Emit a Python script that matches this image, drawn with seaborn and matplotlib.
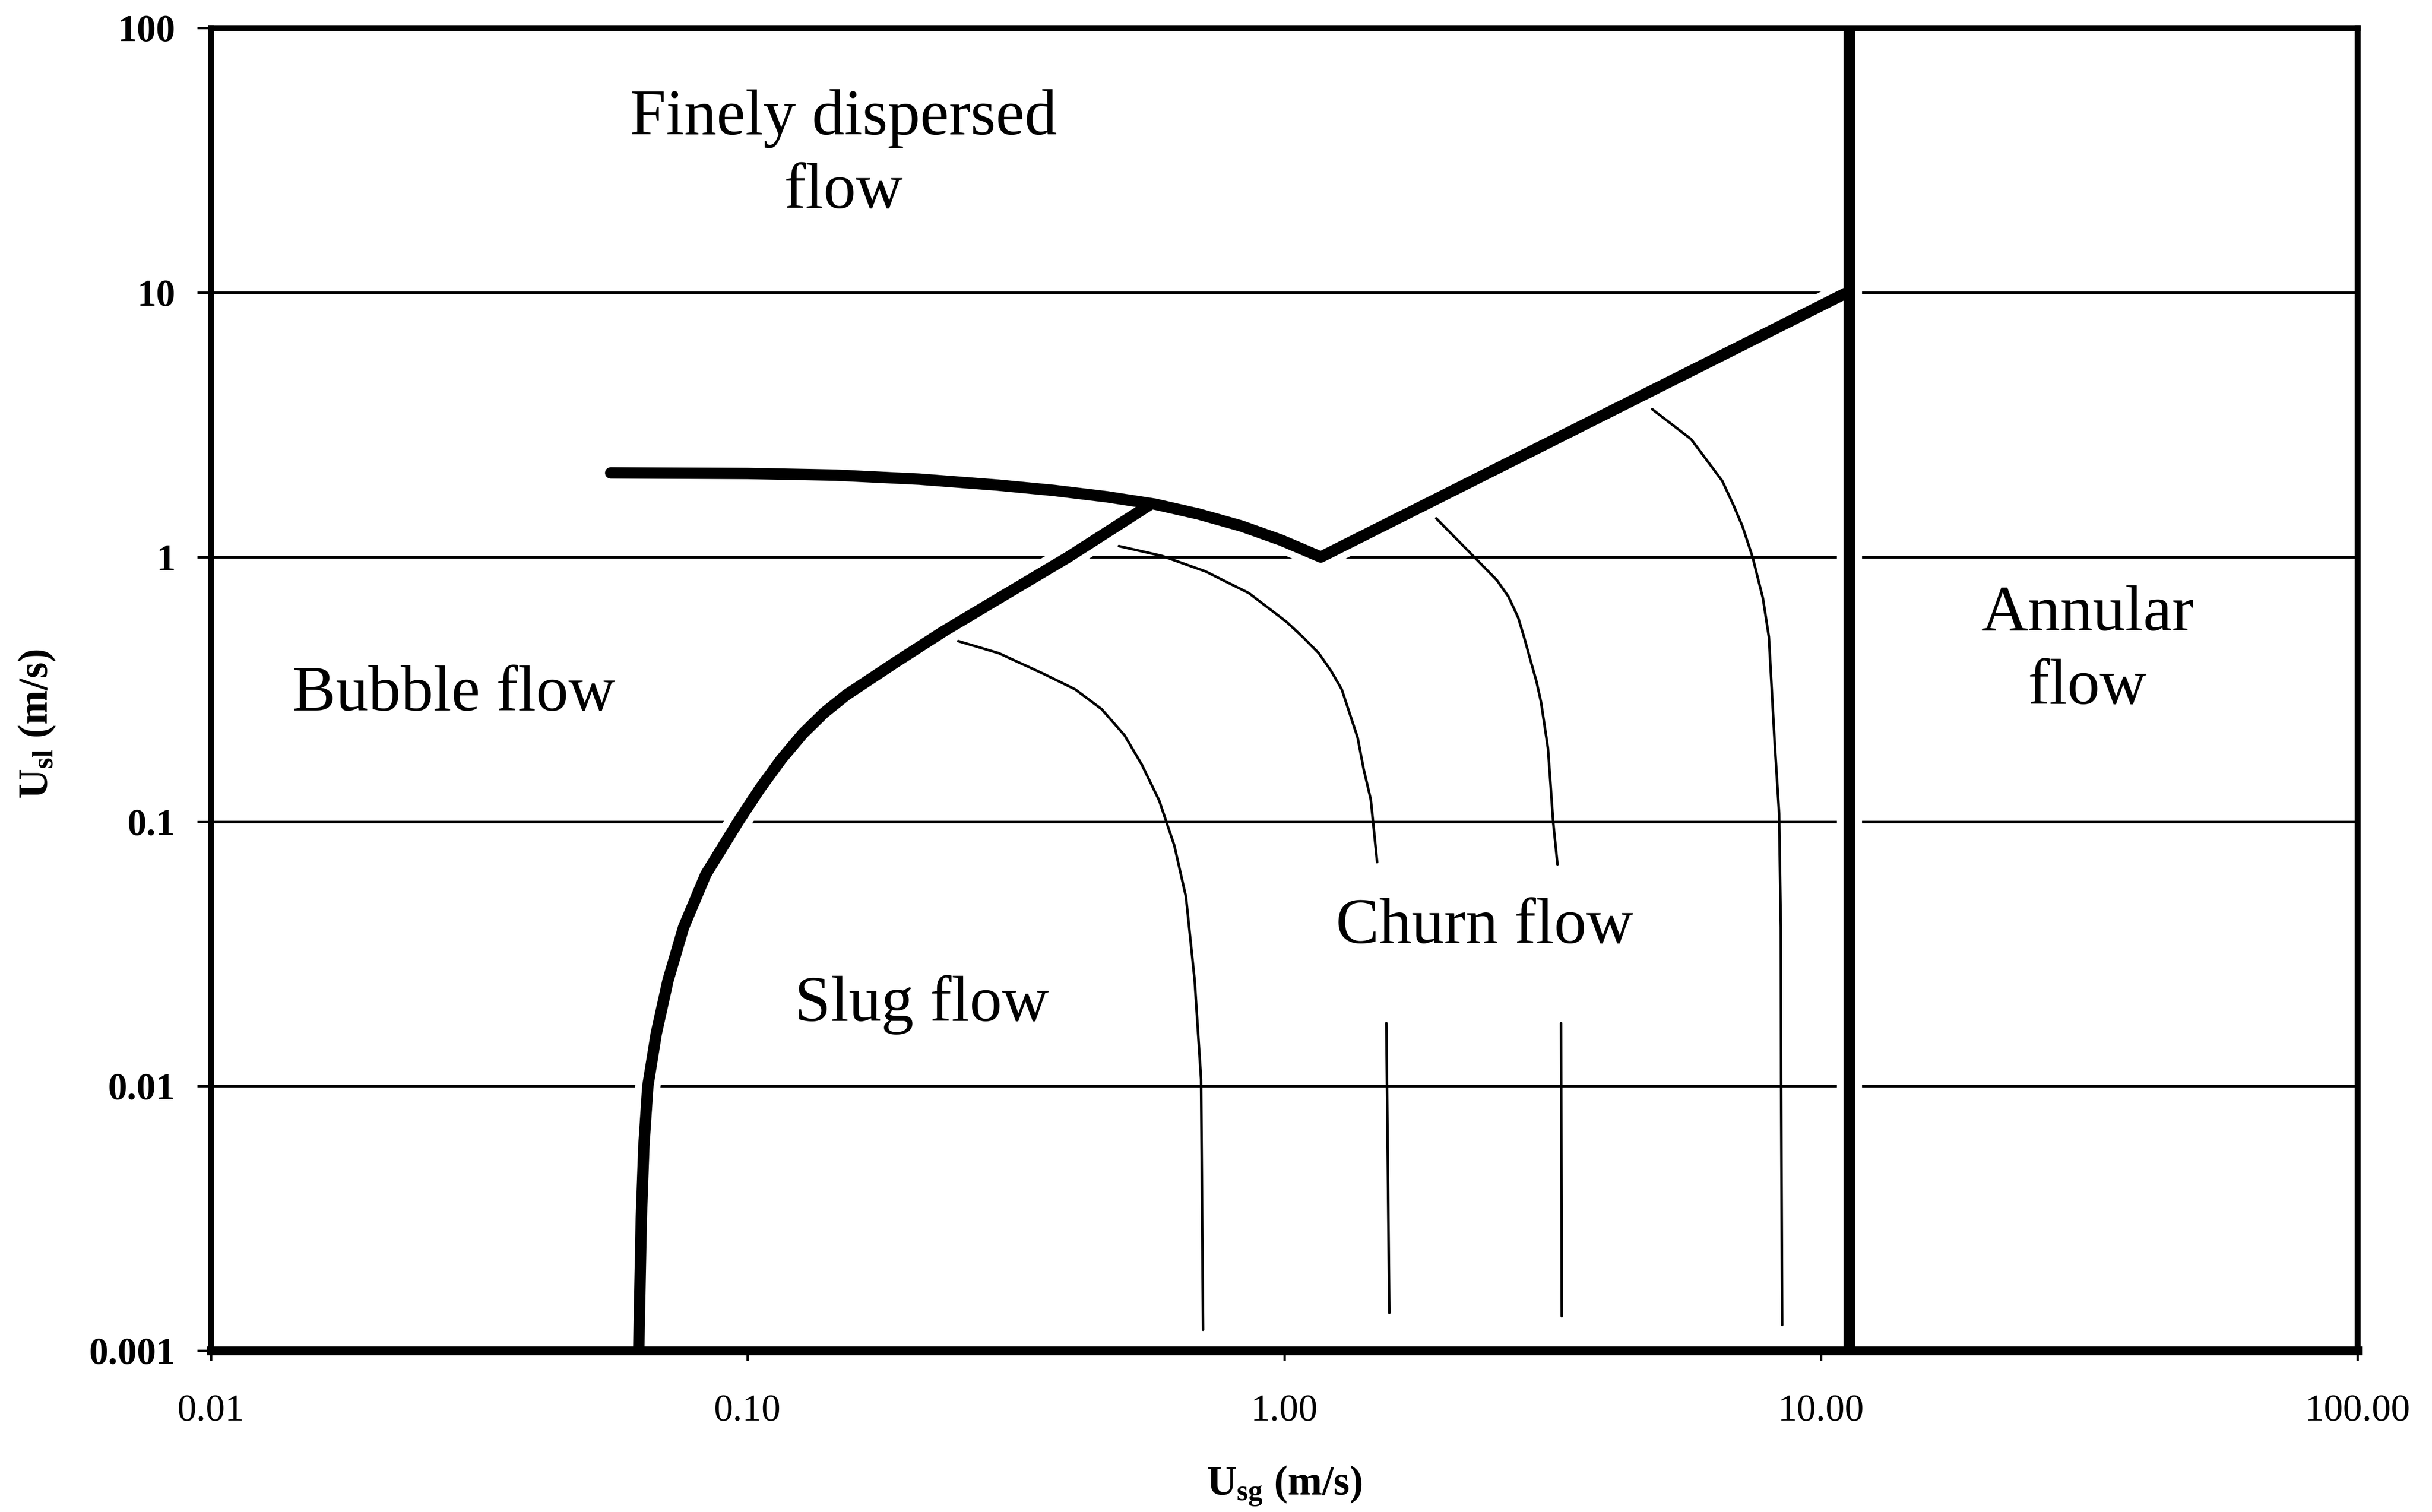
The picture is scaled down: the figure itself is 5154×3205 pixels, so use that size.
import matplotlib
matplotlib.use("Agg")
import matplotlib.pyplot as plt
import seaborn as sns

# ---- flow-regime boundaries (U_sg, U_sl in m/s) ----
bubble_slug_x = [0.0627, 0.0634, 0.0641, 0.0652, 0.0676, 0.0711, 0.0760, 0.0836, 0.0961,
                 0.1054, 0.1156, 0.1268, 0.139, 0.1528, 0.188, 0.232, 0.303, 0.396, 0.56]
bubble_slug_y = [0.001, 0.00316, 0.00594, 0.01, 0.0158, 0.0251, 0.0398, 0.0631, 0.1,
                 0.133, 0.172, 0.215, 0.258, 0.301, 0.398, 0.524, 0.724, 1.0, 1.57]

dispersed_x = [0.0556, 0.100, 0.146, 0.209, 0.293, 0.372, 0.467, 0.574, 0.692, 0.832,
               0.985, 1.17, 11.3]
dispersed_y = [2.08, 2.07, 2.04, 1.97, 1.87, 1.786, 1.69, 1.585, 1.455, 1.31,
               1.16, 1.0, 10.1]

annular_x = [11.3, 11.3]
annular_y = [0.001, 100]

# slug / churn lines (thin)
line_a_x = [0.247, 0.294, 0.355, 0.408, 0.457, 0.504, 0.543, 0.585, 0.624, 0.656,
            0.681, 0.700, 0.706]
line_a_y = [0.481, 0.433, 0.363, 0.316, 0.266, 0.212, 0.164, 0.120, 0.0813, 0.052,
            0.0251, 0.0106, 0.0012]

line_b_x = [0.492, 0.592, 0.713, 0.859, 1.01, 1.086, 1.16, 1.222, 1.28, 1.37, 1.406,
            1.45, 1.49]
line_b_y = [1.10, 1.01, 0.883, 0.731, 0.569, 0.496, 0.433, 0.372, 0.316, 0.208, 0.158,
            0.121, 0.0702]
line_b2_x = [1.55, 1.57]
line_b2_y = [0.0173, 0.00139]

line_c_x = [1.92, 2.26, 2.49, 2.618, 2.73, 2.805, 2.88, 2.951, 3.01, 3.10, 3.133, 3.17, 3.23]
line_c_y = [1.40, 1.0, 0.818, 0.708, 0.589, 0.49, 0.404, 0.339, 0.283, 0.190, 0.141, 0.1, 0.0689]
line_c2_x = [3.28, 3.29]
line_c2_y = [0.0173, 0.00135]

line_d_x = [4.85, 5.73, 6.55, 6.86, 7.14, 7.46, 7.80, 8.00, 8.20, 8.36, 8.42, 8.43, 8.47]
line_d_y = [3.62, 2.79, 1.94, 1.585, 1.31, 1.0, 0.697, 0.499, 0.2, 0.107, 0.0398, 0.0107, 0.00125]

x_ticks = [0.01, 0.1, 1, 10, 100]
x_tick_labels = ["0.01", "0.10", "1.00", "10.00", "100.00"]
y_ticks = [0.001, 0.01, 0.1, 1, 10, 100]
y_tick_labels = ["0.001", "0.01", "0.1", "1", "10", "100"]

regions = [
    ("Finely dispersed\nflow", 0.151, 33.0),
    ("Bubble flow", 0.0284, 0.302),
    ("Slug flow", 0.211, 0.0203),
    ("Churn flow", 2.36, 0.0398),
    ("Annular\nflow", 31.4, 0.44),
]

sns.set_theme(style="white")
plt.rcParams["font.family"] = ["Liberation Serif", "DejaVu Serif"]
plt.rcParams["mathtext.fontset"] = "custom"
plt.rcParams["mathtext.rm"] = "Liberation Serif"
plt.rcParams["mathtext.bf"] = "Liberation Serif:bold"
plt.rcParams["mathtext.it"] = "Liberation Serif:italic"
plt.rcParams["text.color"] = "black"
plt.rcParams["xtick.color"] = "black"
plt.rcParams["ytick.color"] = "black"
plt.rcParams["axes.labelcolor"] = "black"

fig = plt.figure(figsize=(5154 / 300, 3205 / 300), dpi=300)
ax = fig.add_axes([0.0867, 0.1067, 0.9694 - 0.0867, 0.9815 - 0.1067])

thick = 5.8
thin = 1.3
thick_lines = [(bubble_slug_x, bubble_slug_y), (dispersed_x, dispersed_y), (annular_x, annular_y)]

# white margin under the heavy boundaries so grid lines stop short of them
for xs, ys in thick_lines:
    sns.lineplot(x=xs, y=ys, ax=ax, sort=False, estimator=None, color="white",
                 linewidth=thick + 7, solid_capstyle="round", solid_joinstyle="round",
                 zorder=1.8)

for xs, ys in [(line_a_x, line_a_y), (line_b_x, line_b_y), (line_b2_x, line_b2_y),
               (line_c_x, line_c_y), (line_c2_x, line_c2_y), (line_d_x, line_d_y)]:
    sns.lineplot(x=xs, y=ys, ax=ax, sort=False, estimator=None, color="black",
                 linewidth=thin, solid_joinstyle="round", zorder=2.0)

for xs, ys in thick_lines:
    sns.lineplot(x=xs, y=ys, ax=ax, sort=False, estimator=None, color="black",
                 linewidth=thick, solid_capstyle="round", solid_joinstyle="round",
                 zorder=2.2)

ax.set_xscale("log")
ax.set_yscale("log")
ax.set_xlim(0.01, 100)
ax.set_ylim(0.001, 100)

ax.set_xticks(x_ticks)
ax.set_xticklabels(x_tick_labels, fontsize=19.5)
ax.set_yticks(y_ticks)
ax.set_yticklabels(y_tick_labels, fontsize=19.5, fontweight="bold")
ax.minorticks_off()
ax.tick_params(axis="x", direction="out", length=5, width=1.2, color="black", pad=17, bottom=True)
ax.tick_params(axis="y", direction="out", length=7, width=1.2, color="black", pad=11, left=True)

ax.set_axisbelow(True)
ax.yaxis.grid(True, color="black", linewidth=1.3)
ax.xaxis.grid(False)

for side in ["left", "top", "right"]:
    ax.spines[side].set_color("black")
    ax.spines[side].set_linewidth(3.0)
ax.spines["bottom"].set_color("black")
ax.spines["bottom"].set_linewidth(4.5)

for text, tx, ty in regions:
    ax.text(tx, ty, text, fontsize=33, ha="center", va="center", linespacing=1.33, zorder=3)

ax.set_xlabel("")
ax.set_ylabel("")
fig.text(828 / 1568, 1 - 958 / 975, r"$\mathbf{U_{sg}}$ (m/s)", fontsize=21,
         fontweight="bold", ha="center", va="center")
fig.text(24 / 1568, 1 - 467 / 975, r"$\mathbf{U_{sl}}$ (m/s)", fontsize=21,
         fontweight="bold", ha="center", va="center", rotation=90)

fig.savefig("out.png", dpi=300, facecolor="white")
